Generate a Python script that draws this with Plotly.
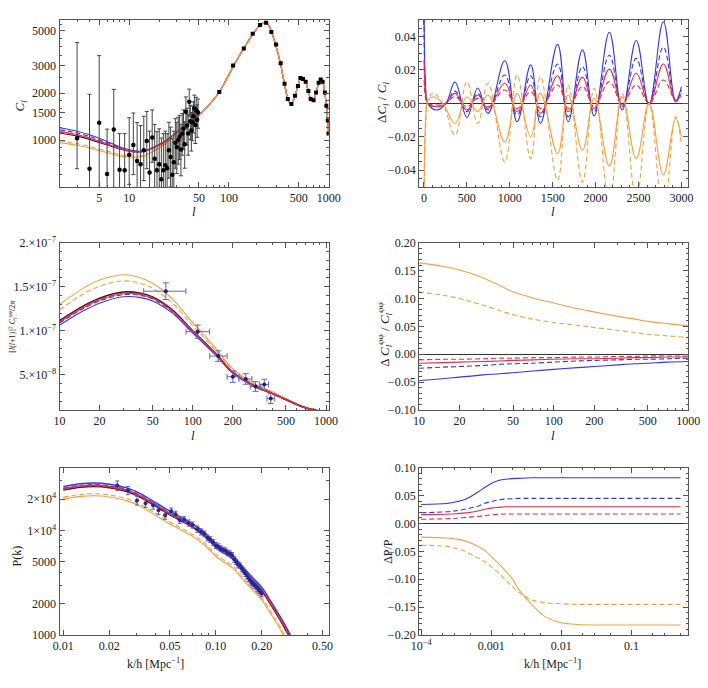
import plotly.graph_objects as go

# ---------------- Panel 1 : TT spectrum ----------------
tt_l = [2, 3, 4, 6, 8, 11, 14, 18, 24, 33, 45, 60, 80, 110, 140, 175, 205, 230, 250, 270, 300,
        330, 360, 390, 420, 460, 490, 525, 555, 590, 625, 660, 700, 750, 795, 830, 870, 915, 950, 980, 1000]
tt_fid = [1110, 1060, 1010, 930, 875, 840, 845, 900, 1000, 1180, 1360, 1620, 2030, 2950, 3850, 4800, 5450,
          5680, 5450, 4850, 3900, 3050, 2300, 1830, 1700, 1920, 2220, 2490, 2460, 2340, 2060, 1840, 1790,
          2020, 2330, 2440, 2360, 2010, 1650, 1330, 1080]
tt_blue_low = [1200, 1140, 1080, 980, 905, 855, 852, 905, 1003, 1182, 1360]
tt_blued_low = [1165, 1110, 1055, 960, 893, 849, 849, 903, 1002, 1181, 1360]
tt_red_low = [1140, 1085, 1030, 945, 884, 845, 847, 902, 1001, 1181, 1360]
tt_redd_low = [1125, 1072, 1020, 937, 880, 842, 846, 901, 1000, 1180, 1360]
tt_orad_low = [990, 950, 910, 850, 810, 790, 800, 865, 975, 1165, 1355]
tt_ora_low = [962, 925, 888, 830, 792, 775, 787, 855, 968, 1160, 1355]

tt_lo_l = [3, 4, 5, 6, 7, 8, 9, 10, 11, 12, 13, 14, 15, 16, 17, 18, 19, 20, 21, 22, 23, 24, 25, 26,
           27, 28, 29, 30, 31, 32, 33, 34, 35, 36, 37, 38, 39, 40, 41, 42, 43, 44, 45, 46, 47, 48, 49]
tt_lo_d = [1025, 654, 1290, 605, 1167, 645, 640, 805, 930, 735, 700, 860, 985, 620, 1040, 760, 640, 700,
           560, 640, 690, 660, 860, 780, 600, 720, 960, 900, 1000, 1050, 870, 1100, 1180, 940, 1520, 1240,
           1100, 1760, 1320, 1150, 1300, 1420, 1600, 1250, 1550, 1350, 1500]
tt_lo_up = [3190, 1310, 2185, 570, 945, 455, 460, 585, 560, 560, 540, 560, 540, 520, 520, 500, 490, 480,
            470, 460, 450, 440, 440, 430, 420, 420, 410, 400, 400, 390, 390, 380, 380, 370, 370, 360, 360,
            360, 350, 350, 350, 340, 340, 340, 330, 330, 330]
tt_lo_dn = [370, 400, 900, 350, 700, 350, 350, 285, 330, 300, 290, 310, 330, 280, 320, 290, 270, 280, 250,
            260, 270, 260, 290, 280, 250, 270, 300, 290, 300, 300, 280, 300, 310, 280, 330, 310, 300, 340,
            310, 300, 310, 310, 320, 300, 320, 310, 310]
tt_hi_l = [80, 110, 141, 173, 205, 236, 266, 297, 330, 361, 389, 423, 459, 492, 521, 553, 588, 626, 660,
           706, 748, 794, 831, 870, 915, 949, 979, 995]
tt_hi_d = [2030, 3005, 3860, 4800, 5470, 5640, 4920, 4090, 3110, 2295, 1830, 1700, 1920, 2220, 2500, 2460,
           2360, 2060, 1830, 1800, 2015, 2330, 2440, 2360, 2015, 1660, 1335, 1100]

# ---------------- Panel 2 : relative TT ----------------
rel_l = [2, 20, 45, 150, 256, 362, 501, 626, 746, 942, 1085, 1244, 1357, 1557, 1681, 1847, 1983, 2160,
         2310, 2473, 2623, 2789, 2932, 3000]
rel_l_ora = [2, 20, 50, 110, 220, 362, 501, 626, 746, 942, 1085, 1244, 1357, 1557, 1681, 1847, 1983, 2160,
             2310, 2473, 2623, 2789, 2932, 3000]
rel_blue = [0.09, 0.01, 0.000, -0.004, 0.000, 0.0127, -0.0084, 0.0092, -0.006, 0.0255, -0.011, 0.023, -0.012,
            0.0353, -0.011, 0.032, -0.0075, 0.0425, -0.004, 0.0376, -0.0006, 0.0488, 0.0014, 0.010]
rel_blued = [0.07, 0.007, 0.000, -0.002, 0.000, 0.0073, -0.005, 0.006, -0.004, 0.017, -0.007, 0.0165, -0.008,
             0.0235, -0.008, 0.022, -0.005, 0.0288, -0.002, 0.0269, 0.000, 0.0337, 0.002, 0.008]
rel_red = [0.026, 0.005, 0.000, -0.002, 0.000, 0.006, -0.004, 0.005, -0.003, 0.012, -0.005, 0.011, -0.006,
           0.0165, -0.005, 0.0157, -0.003, 0.0205, -0.001, 0.018, 0.000, 0.0235, 0.001, 0.006]
rel_redd = [0.014, 0.003, 0.000, -0.001, 0.000, 0.004, -0.002, 0.003, -0.002, 0.008, -0.003, 0.007, -0.003,
            0.011, -0.003, 0.010, -0.002, 0.013, 0.000, 0.011, 0.000, 0.014, 0.002, 0.004]
rel_ora = [-0.09, -0.01, 0.002, 0.004, 0.000, -0.012, 0.004, -0.005, 0.005, -0.023, 0.006, -0.020, 0.006,
           -0.030, 0.005, -0.028, 0.003, -0.0375, 0.004, -0.033, 0.000, -0.0427, -0.009, -0.02]
rel_orad = [-0.12, -0.015, 0.003, 0.006, 0.000, -0.019, 0.013, -0.012, 0.012, -0.035, 0.017, -0.033, 0.016,
            -0.046, 0.011, -0.047, 0.009, -0.058, 0.006, -0.057, 0.000, -0.065, -0.008, -0.025]

# ---------------- Panel 3 : lensing spectrum ----------------
pp_l = [10, 15, 20, 30, 40, 50, 70, 100, 150, 200, 300, 400, 500, 700, 1000]
pp_fid = [1.115e-7, 1.28e-7, 1.37e-7, 1.44e-7, 1.43e-7, 1.385e-7, 1.24e-7, 1.00e-7, 7.35e-8, 5.30e-8,
          3.64e-8, 2.86e-8, 2.19e-8, 1.26e-8, 7.5e-9]
pp_ora = [1.298e-7, 1.482e-7, 1.577e-7, 1.637e-7, 1.606e-7, 1.540e-7, 1.365e-7, 1.092e-7, 7.95e-8, 5.70e-8,
          3.89e-8, 3.04e-8, 2.32e-8, 1.33e-8, 7.9e-9]
pp_orad = [1.240e-7, 1.416e-7, 1.507e-7, 1.567e-7, 1.542e-7, 1.483e-7, 1.318e-7, 1.057e-7, 7.73e-8, 5.55e-8,
           3.80e-8, 2.97e-8, 2.27e-8, 1.30e-8, 7.7e-9]
pp_blue = [1.063e-7, 1.224e-7, 1.314e-7, 1.387e-7, 1.380e-7, 1.339e-7, 1.203e-7, 0.973e-7, 7.17e-8, 5.18e-8,
           3.57e-8, 2.81e-8, 2.15e-8, 1.24e-8, 7.4e-9]
pp_blued = [1.087e-7, 1.251e-7, 1.340e-7, 1.411e-7, 1.404e-7, 1.361e-7, 1.220e-7, 0.986e-7, 7.26e-8, 5.24e-8,
            3.60e-8, 2.83e-8, 2.17e-8, 1.25e-8, 7.45e-9]
pp_red = [1.097e-7, 1.261e-7, 1.351e-7, 1.421e-7, 1.413e-7, 1.370e-7, 1.228e-7, 0.991e-7, 7.29e-8, 5.26e-8,
          3.61e-8, 2.84e-8, 2.18e-8, 1.25e-8, 7.46e-9]
pp_redd = [1.104e-7, 1.268e-7, 1.358e-7, 1.428e-7, 1.420e-7, 1.375e-7, 1.233e-7, 0.994e-7, 7.31e-8, 5.27e-8,
           3.63e-8, 2.85e-8, 2.18e-8, 1.26e-8, 7.48e-9]
pp_dat_l = [62.8, 109, 155, 200, 250, 296, 344, 385]
pp_dat_v = [1.45e-7, 0.99e-7, 7.13e-8, 4.79e-8, 4.53e-8, 3.67e-8, 3.9e-8, 2.3e-8]
pp_dat_ey = [0.95e-8, 0.75e-8, 0.6e-8, 0.65e-8, 0.6e-8, 0.55e-8, 0.6e-8, 0.55e-8]
pp_dat_exp = [26, 25, 26, 22, 28, 29, 26, 27]
pp_dat_exm = [20, 20, 21, 19, 28, 26, 26, 25]

# ---------------- Panel 4 : relative lensing ----------------
dpp_ora = [0.164, 0.158, 0.151, 0.137, 0.123, 0.112, 0.101, 0.092, 0.082, 0.076, 0.068, 0.063, 0.059, 0.055, 0.051]
dpp_orad = [0.112, 0.106, 0.100, 0.088, 0.078, 0.071, 0.063, 0.057, 0.052, 0.048, 0.043, 0.039, 0.036, 0.033, 0.030]
dpp_blue = [-0.047, -0.044, -0.041, -0.037, -0.035, -0.033, -0.030, -0.027, -0.024, -0.022, -0.019, -0.017,
            -0.016, -0.014, -0.013]
dpp_blued = [-0.025, -0.023, -0.022, -0.020, -0.018, -0.017, -0.016, -0.014, -0.012, -0.011, -0.010, -0.009,
             -0.009, -0.008, -0.007]
dpp_red = [-0.016, -0.015, -0.014, -0.013, -0.012, -0.011, -0.010, -0.009, -0.008, -0.008, -0.007, -0.006,
           -0.006, -0.005, -0.005]
dpp_redd = [-0.010, -0.009, -0.009, -0.008, -0.007, -0.007, -0.006, -0.006, -0.005, -0.005, -0.004, -0.004,
            -0.003, -0.003, -0.003]

# ---------------- Panel 5 : matter power spectrum ----------------
pk_k = [0.010, 0.013, 0.016, 0.020, 0.026, 0.032, 0.040, 0.048, 0.056, 0.065, 0.075, 0.087, 0.100, 0.115,
        0.130, 0.150, 0.175, 0.200, 0.240, 0.280, 0.320]
pk_fid = [24400, 25900, 26300, 25600, 23600, 20800, 17200, 14600, 12900, 11500, 10100, 8500, 6900, 6000,
          5300, 4150, 3250, 2650, 1750, 1200, 830]
pk_blue = [26400, 28020, 28460, 27700, 25540, 22510, 18610, 15800, 13960, 12440, 10930, 9200, 7470, 6490,
           5730, 4490, 3520, 2870, 1890, 1300, 900]
pk_blued = [25500, 27070, 27480, 26750, 24660, 21740, 17970, 15260, 13480, 12020, 10550, 8880, 7210, 6270,
            5540, 4340, 3400, 2770, 1830, 1250, 870]
pk_red = [25130, 26680, 27090, 26370, 24310, 21420, 17720, 15040, 13290, 11850, 10400, 8760, 7110, 6180,
          5460, 4270, 3350, 2730, 1800, 1240, 855]
pk_redd = [24790, 26310, 26720, 26010, 23980, 21130, 17480, 14830, 13110, 11680, 10260, 8640, 7010, 6100,
           5380, 4220, 3300, 2690, 1780, 1220, 843]
pk_ora = [19960, 21190, 21510, 20940, 19300, 17010, 14070, 11940, 10550, 9410, 8260, 6950, 5640, 4910,
          4340, 3390, 2660, 2170, 1430, 980, 680]
pk_orad = [20860, 22140, 22490, 21890, 20180, 17780, 14710, 12480, 11030, 9830, 8640, 7270, 5900, 5130,
           4530, 3550, 2780, 2270, 1500, 1030, 710]
pk_dat_k = [0.0226, 0.0265, 0.0304, 0.0346, 0.0388, 0.0421, 0.0465, 0.051, 0.0545, 0.058, 0.062, 0.0663,
            0.0703, 0.0756, 0.080, 0.084, 0.088, 0.092, 0.096, 0.100, 0.104, 0.108, 0.112, 0.116, 0.120,
            0.124, 0.128, 0.132, 0.136, 0.140, 0.144, 0.148, 0.152, 0.156, 0.160, 0.164, 0.168, 0.172,
            0.176, 0.180, 0.184, 0.188, 0.192, 0.196, 0.200]
pk_dat_p = [27000, 24200, 19400, 18200, 17400, 15600, 14000, 15300, 14300, 12600, 12700, 11800, 11300, 10300,
            9700, 9300, 8500, 8200, 7700, 7200, 7000, 6700, 6500, 6400, 6100, 6000, 5800, 5300, 5000, 4700,
            4600, 4300, 4100, 3900, 3700, 3500, 3300, 3200, 3100, 3000, 2900, 2800, 2700, 2600, 2500]
pk_dat_e = [2800, 2200, 1900, 1600, 1400, 1300, 1200, 1100, 1000, 900, 850, 800, 750, 700, 650, 600, 550,
            520, 500, 470, 450, 430, 410, 400, 380, 370, 350, 330, 310, 300, 290, 280, 270, 260, 250, 240,
            230, 220, 210, 210, 200, 200, 190, 190, 180]

# ---------------- Panel 6 : relative P(k) ----------------
dp_k = [1e-4, 2.32e-4, 3.2e-4, 4.4e-4, 6.76e-4, 8.4e-4, 1.05e-3, 1.3e-3, 1.62e-3, 2.0e-3, 2.47e-3, 3.07e-3,
        3.8e-3, 5.85e-3, 0.01, 0.017, 0.05, 0.5]
dp_blue = [0.034, 0.036, 0.039, 0.044, 0.058, 0.066, 0.073, 0.0775, 0.0795, 0.0805, 0.081, 0.0815, 0.082,
           0.082, 0.082, 0.082, 0.082, 0.082]
dp_blued = [0.0193, 0.021, 0.023, 0.026, 0.032, 0.037, 0.040, 0.0425, 0.044, 0.0445, 0.045, 0.045, 0.045,
            0.045, 0.045, 0.045, 0.045, 0.045]
dp_red = [0.016, 0.0165, 0.0175, 0.019, 0.023, 0.026, 0.028, 0.029, 0.030, 0.030, 0.030, 0.030, 0.030,
          0.030, 0.030, 0.030, 0.030, 0.030]
dp_redd = [0.0076, 0.0085, 0.0094, 0.011, 0.013, 0.0145, 0.0158, 0.0165, 0.017, 0.017, 0.017, 0.017, 0.017,
           0.017, 0.017, 0.017, 0.017, 0.017]
dp_ora = [-0.0245, -0.026, -0.028, -0.032, -0.042, -0.050, -0.062, -0.073, -0.086, -0.0994, -0.118, -0.133,
          -0.146, -0.167, -0.178, -0.181, -0.182, -0.182]
dp_orad = [-0.039, -0.041, -0.045, -0.051, -0.063, -0.070, -0.080, -0.090, -0.102, -0.113, -0.123, -0.131,
           -0.137, -0.142, -0.144, -0.145, -0.145, -0.145]

# ---------------- styling ----------------
BLUE = "rgb(55,55,225)"
RED = "rgb(228,45,75)"
ORANGE = "rgb(245,160,65)"
DARK = "rgb(70,20,35)"
SERIF = "Liberation Serif"
W = 708
H = 688

fig = go.Figure()


def line(x, y, color, dash=None, ax="", width=1.1, smooth=0.9):
    fig.add_trace(go.Scatter(
        x=x, y=y, mode="lines", xaxis="x" + ax, yaxis="y" + ax, showlegend=False, hoverinfo="skip",
        line=dict(color=color, width=width, dash=("5px,3px" if dash else "solid"),
                  shape="spline", smoothing=smooth)))


# Panel 1
line(tt_l, tt_fid, DARK, ax="", width=1.1)
line(tt_l, tt_blue_low + tt_fid[11:], BLUE)
line(tt_l, tt_blued_low + tt_fid[11:], BLUE, dash=True)
line(tt_l, tt_redd_low + tt_fid[11:], RED, dash=True)
line(tt_l, tt_red_low + tt_fid[11:], RED)
line(tt_l, tt_orad_low + tt_fid[11:], ORANGE, dash=True)
line(tt_l, tt_ora_low + tt_fid[11:], ORANGE)
fig.add_trace(go.Scatter(x=tt_lo_l, y=tt_lo_d, mode="markers", xaxis="x", yaxis="y", showlegend=False,
                         marker=dict(color="black", size=4.5),
                         error_y=dict(type="data", symmetric=False, array=tt_lo_up, arrayminus=tt_lo_dn,
                                      color="#444", thickness=1, width=2)))
fig.add_trace(go.Scatter(x=tt_hi_l, y=tt_hi_d, mode="markers", xaxis="x", yaxis="y", showlegend=False,
                         marker=dict(color="black", size=4, symbol="square")))

# Panel 2
S2 = 1.15
line(rel_l, rel_blue, BLUE, ax="2", smooth=S2)
line(rel_l, rel_blued, BLUE, dash=True, ax="2", smooth=S2)
line(rel_l, rel_red, RED, ax="2", smooth=S2)
line(rel_l, rel_redd, RED, dash=True, ax="2", smooth=S2)
line(rel_l_ora, rel_ora, ORANGE, ax="2", smooth=S2)
line(rel_l_ora, rel_orad, ORANGE, dash=True, ax="2", smooth=S2)

# Panel 3
line(pp_l, pp_ora, ORANGE, ax="3")
line(pp_l, pp_orad, ORANGE, dash=True, ax="3")
line(pp_l, pp_blue, BLUE, ax="3")
line(pp_l, pp_blued, BLUE, dash=True, ax="3")
line(pp_l, pp_fid, DARK, ax="3", width=1.6)
line(pp_l, pp_red, RED, ax="3")
line(pp_l, pp_redd, RED, dash=True, ax="3")
fig.add_trace(go.Scatter(x=pp_dat_l, y=pp_dat_v, mode="markers", xaxis="x3", yaxis="y3", showlegend=False,
                         marker=dict(color="rgb(30,30,120)", size=4),
                         error_y=dict(type="data", array=pp_dat_ey, color="rgb(100,100,200)", thickness=1, width=3),
                         error_x=dict(type="data", symmetric=False, array=pp_dat_exp, arrayminus=pp_dat_exm,
                                      color="rgb(100,100,200)", thickness=1, width=3)))

# Panel 4
line(pp_l, dpp_ora, ORANGE, ax="4")
line(pp_l, dpp_orad, ORANGE, dash=True, ax="4")
line(pp_l, dpp_blue, BLUE, ax="4")
line(pp_l, dpp_blued, BLUE, dash=True, ax="4")
line(pp_l, dpp_red, RED, ax="4")
line(pp_l, dpp_redd, RED, dash=True, ax="4")

# Panel 5
line(pk_k, pk_ora, ORANGE, ax="5")
line(pk_k, pk_orad, ORANGE, dash=True, ax="5")
line(pk_k, pk_blue, BLUE, ax="5", width=1.4)
line(pk_k, pk_blued, BLUE, dash=True, ax="5")
line(pk_k, pk_fid, DARK, ax="5", width=1.6)
line(pk_k, pk_red, RED, ax="5", width=1.4)
line(pk_k, pk_redd, RED, dash=True, ax="5")
fig.add_trace(go.Scatter(x=pk_dat_k, y=pk_dat_p, mode="markers", xaxis="x5", yaxis="y5", showlegend=False,
                         marker=dict(color="rgb(40,40,140)", size=4),
                         error_y=dict(type="data", array=pk_dat_e, color="rgb(90,90,200)", thickness=1, width=2)))

# Panel 6
line(dp_k, dp_blue, BLUE, ax="6")
line(dp_k, dp_blued, BLUE, dash=True, ax="6")
line(dp_k, dp_red, RED, ax="6")
line(dp_k, dp_redd, RED, dash=True, ax="6")
line(dp_k, dp_ora, ORANGE, ax="6")
line(dp_k, dp_orad, ORANGE, dash=True, ax="6")

# ---------------- axes ----------------
FRAME = "#555"


def base(**kw):
    d = dict(showline=True, linecolor=FRAME, linewidth=1, mirror="allticks", ticks="inside", ticklen=5,
             tickwidth=1, tickcolor=FRAME, showgrid=False, zeroline=False,
             tickfont=dict(family=SERIF, size=12, color="#222"))
    d.update(kw)
    return d


def minor_vals(vals):
    return dict(ticks="inside", ticklen=2.5, tickcolor=FRAME, tickmode="array", tickvals=vals, showgrid=False)


def minor_lin(dt):
    return dict(ticks="inside", ticklen=2.5, tickcolor=FRAME, dtick=dt, showgrid=False)


LX = [53 / W, 330 / W]
RX = [423 / W, 700 / W]
TOP = [1 - 183 / H, 1 - 12 / H]
MID = [1 - 411 / H, 1 - 240 / H]
BOT = [1 - 641 / H, 1 - 470 / H]

l_minor = [2, 3, 4, 6, 7, 8, 9, 20, 30, 40, 60, 70, 80, 90, 200, 300, 400, 600, 700, 800, 900]
fig.update_layout(
    xaxis=base(domain=LX, anchor="y", type="log", range=[0.301, 3.0],
               tickvals=[5, 10, 50, 100, 500, 1000], ticktext=["5", "10", "50", "100", "500", "1000"],
               minor=minor_vals(l_minor)),
    yaxis=base(domain=TOP, anchor="x", type="log", range=[2.699, 3.771],
               tickvals=[1000, 1500, 2000, 3000, 5000], ticktext=["1000", "1500", "2000", "3000", "5000"],
               minor=minor_vals([600, 700, 800, 900, 1200, 1400, 1600, 1800, 2500, 3500, 4000, 4500, 5500])),
    xaxis2=base(domain=RX, anchor="y2", range=[-57, 3079], tickvals=[0, 500, 1000, 1500, 2000, 2500, 3000],
                minor=minor_lin(100)),
    yaxis2=base(domain=TOP, anchor="x2", range=[-0.05, 0.05], tickvals=[-0.04, -0.02, 0, 0.02, 0.04],
                ticktext=["−0.04", "−0.02", "0.00", "0.02", "0.04"], minor=minor_lin(0.005),
                zeroline=True, zerolinecolor="#333", zerolinewidth=1),
    xaxis3=base(domain=LX, anchor="y3", type="log", range=[1.0, 3.02],
                tickvals=[10, 20, 50, 100, 200, 500, 1000], ticktext=["10", "20", "50", "100", "200", "500", "1000"],
                minor=minor_vals([30, 40, 60, 70, 80, 90, 300, 400, 600, 700, 800, 900])),
    yaxis3=base(domain=MID, anchor="x3", range=[1e-8, 2e-7], tickvals=[5e-8, 1e-7, 1.5e-7, 2e-7],
                ticktext=["5.×10<sup>−8</sup>", "1.×10<sup>−7</sup>", "1.5×10<sup>−7</sup>", "2.×10<sup>−7</sup>"],
                minor=minor_lin(1e-8)),
    xaxis4=base(domain=RX, anchor="y4", type="log", range=[1.0, 3.0],
                tickvals=[10, 20, 50, 100, 200, 500, 1000], ticktext=["10", "20", "50", "100", "200", "500", "1000"],
                minor=minor_vals([30, 40, 60, 70, 80, 90, 300, 400, 600, 700, 800, 900])),
    yaxis4=base(domain=MID, anchor="x4", range=[-0.10, 0.20], tickvals=[-0.1, -0.05, 0, 0.05, 0.1, 0.15, 0.2],
                ticktext=["−0.10", "−0.05", "0.00", "0.05", "0.10", "0.15", "0.20"], minor=minor_lin(0.01),
                zeroline=True, zerolinecolor="#333", zerolinewidth=1),
    xaxis5=base(domain=LX, anchor="y5", type="log", range=[-2.025, -0.26],
                tickvals=[0.01, 0.02, 0.05, 0.1, 0.2, 0.5], ticktext=["0.01", "0.02", "0.05", "0.10", "0.20", "0.50"],
                minor=minor_vals([0.03, 0.04, 0.06, 0.07, 0.08, 0.09, 0.3, 0.4])),
    yaxis5=base(domain=BOT, anchor="x5", type="log", range=[3.0, 4.6],
                tickvals=[1000, 2000, 5000, 10000, 20000],
                ticktext=["1000", "2000", "5000", "1×10<sup>4</sup>", "2×10<sup>4</sup>"],
                minor=minor_vals([3000, 4000, 6000, 7000, 8000, 9000, 30000])),
    xaxis6=base(domain=RX, anchor="y6", type="log", range=[-4.03, -0.19],
                tickvals=[1e-4, 1e-3, 1e-2, 1e-1], ticktext=["10<sup>−4</sup>", "0.001", "0.01", "0.1"],
                minor=minor_vals([2e-4, 3e-4, 5e-4, 2e-3, 3e-3, 5e-3, 0.02, 0.03, 0.05, 0.2, 0.3, 0.5])),
    yaxis6=base(domain=BOT, anchor="x6", range=[-0.20, 0.10], tickvals=[-0.2, -0.15, -0.1, -0.05, 0, 0.05, 0.1],
                ticktext=["−0.20", "−0.15", "−0.10", "−0.05", "0.00", "0.05", "0.10"], minor=minor_lin(0.01),
                zeroline=True, zerolinecolor="#333", zerolinewidth=1),
    width=W, height=H, margin=dict(l=0, r=0, t=0, b=0),
    paper_bgcolor="white", plot_bgcolor="white", showlegend=False,
)


def label(text, px, py, rot=0, size=13):
    fig.add_annotation(text=text, x=px / W, y=1 - py / H, xref="paper", yref="paper", showarrow=False,
                       textangle=rot, xanchor="center", yanchor="middle",
                       font=dict(family=SERIF, size=size, color="#222"))


label("<i>l</i>", 191, 208)
label("<i>C<sub>l</sub></i>", 13, 100, rot=-90)
label("<i>l</i>", 561, 208)
label("Δ<i>C<sub>l</sub></i> / <i>C<sub>l</sub></i>", 386, 97, rot=-90)
label("<i>l</i>", 190, 437)
label("[<i>l</i>(<i>l</i>+1)]<sup>2</sup> <i>C<sub>l</sub></i><sup>φφ</sup>/2π", 5, 326, rot=-90, size=8)
label("<i>l</i>", 561, 437)
label("Δ <i>C<sub>l</sub></i><sup>φφ</sup> / <i>C<sub>l</sub></i><sup>φφ</sup>", 387, 334, rot=-90)
label("P(k)", 9, 560, rot=-90, size=12)
label("k/h [Mpc<sup>−1</sup>]", 152, 670, size=12)
label("ΔP/P", 391, 555, rot=-90, size=12)
label("k/h [Mpc<sup>−1</sup>]", 560, 670, size=12)

fig.write_html("out.html")
